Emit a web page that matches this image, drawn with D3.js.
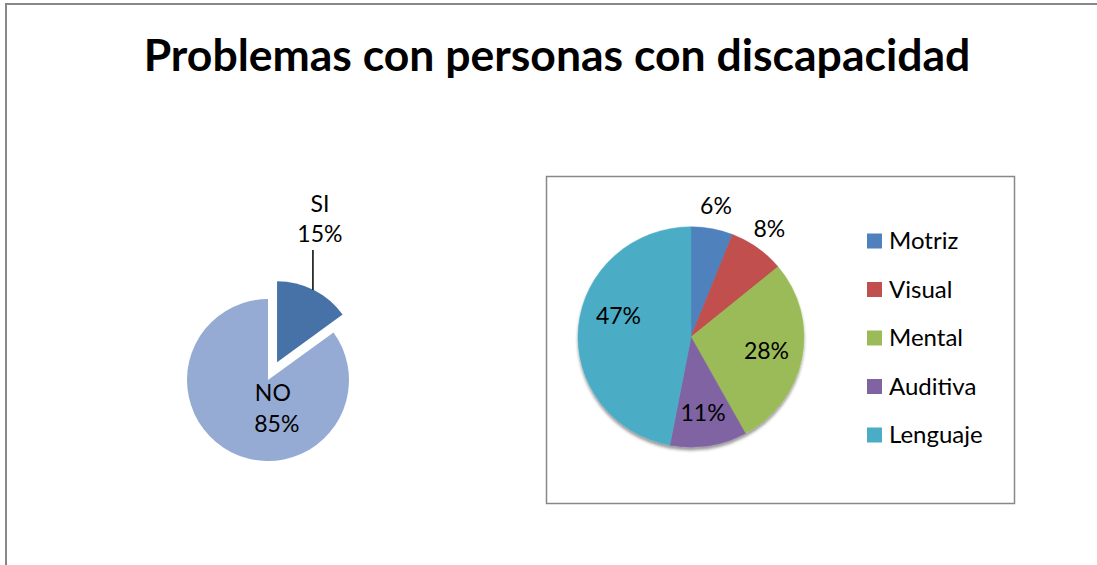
<!DOCTYPE html>
<html>
<head>
<meta charset="utf-8">
<script src="https://cdn.jsdelivr.net/npm/d3@7"></script>
<style>
  body { margin: 0; background: #fff; }
  text { font-family: Lato, "Liberation Sans", sans-serif; fill: #000; }
</style>
</head>
<body>
<div id="chart"></div>
<script>
// ---- data ----
var titleText = "Problemas con personas con discapacidad";

var answerLabels = ["SI", "NO"];
var answerValues = [15, 85];
var answerColors = ["#4672A8", "#95ABD4"];

var typeLabels = ["Motriz", "Visual", "Mental", "Auditiva", "Lenguaje"];
var typeValues = [6, 8, 28, 11, 47];
var typeColors = ["#4F81BD", "#C0504D", "#9BBB59", "#8064A2", "#4BACC6"];

var svgWidth = 1097;
var svgHeight = 565;
var labelSize = "23px";

var svg = d3.select("#chart")
  .append("svg")
  .attr("width", svgWidth)
  .attr("height", svgHeight);

// outer frame (only top and left edges are visible in the crop)
svg.append("path")
  .attr("d", "M6,565 L6,4 L1097,4")
  .attr("fill", "none")
  .attr("stroke", "#888")
  .attr("stroke-width", 2);

// title
svg.append("text")
  .attr("x", 557)
  .attr("y", 71)
  .attr("text-anchor", "middle")
  .style("font-weight", "bold")
  .style("font-size", "44.5px")
  .text(titleText);

// ---- left pie (SI / NO, SI exploded) ----
var leftR = 81;
var explode = 20;
var leftG = svg.append("g").attr("transform", "translate(268,380)");

var leftPie = d3.pie().sort(null).value(d => d)(answerValues);
var leftArc = d3.arc().innerRadius(0).outerRadius(leftR);

leftG.selectAll("path")
  .data(leftPie)
  .enter()
  .append("path")
  .attr("d", leftArc)
  .attr("fill", (d, i) => answerColors[i])
  .attr("transform", function(d, i) {
    if (i != 0) return null;
    var mid = (d.startAngle + d.endAngle) / 2;
    return `translate(${explode * Math.sin(mid)}, ${-explode * Math.cos(mid)})`;
  });

// SI label with leader line
var siMid = (leftPie[0].startAngle + leftPie[0].endAngle) / 2;
var siX = (explode + leftR * 0.975) * Math.sin(siMid);
leftG.append("line")
  .attr("x1", siX).attr("x2", siX)
  .attr("y1", -90).attr("y2", -130)
  .attr("stroke", "#000")
  .attr("stroke-width", 1.5);
leftG.append("text")
  .attr("x", siX + 7).attr("y", -168)
  .attr("text-anchor", "middle")
  .style("font-size", labelSize)
  .text(answerLabels[0]);
leftG.append("text")
  .attr("x", siX + 7).attr("y", -138)
  .attr("text-anchor", "middle")
  .style("font-size", labelSize)
  .text(answerValues[0] + "%");

// NO label inside
var noC = d3.arc().innerRadius(0).outerRadius(leftR * 0.5).centroid(leftPie[1]);
leftG.append("text")
  .attr("x", noC[0] + 14).attr("y", noC[1] + 3)
  .attr("text-anchor", "middle")
  .style("font-size", labelSize)
  .text(answerLabels[1]);
leftG.append("text")
  .attr("x", noC[0] + 18).attr("y", noC[1] + 34)
  .attr("text-anchor", "middle")
  .style("font-size", labelSize)
  .text(answerValues[1] + "%");

// ---- right chart box ----
svg.append("rect")
  .attr("x", 546.5).attr("y", 176.5)
  .attr("width", 468).attr("height", 327)
  .attr("fill", "#fff")
  .attr("stroke", "#888")
  .attr("stroke-width", 1.5);

var defs = svg.append("defs");
var shadow = defs.append("filter").attr("id", "pieShadow")
  .attr("x", "-20%").attr("y", "-20%").attr("width", "140%").attr("height", "140%");
shadow.append("feDropShadow")
  .attr("dx", 0).attr("dy", 3)
  .attr("stdDeviation", 1.5)
  .attr("flood-color", "#000")
  .attr("flood-opacity", 0.4);

var rightR = 113;
var rightG = svg.append("g").attr("transform", "translate(691,337) scale(1,0.975)");

var rightPie = d3.pie().sort(null).value(d => d)(typeValues);
var rightArc = d3.arc().innerRadius(0).outerRadius(rightR);

rightG.append("g")
  .attr("filter", "url(#pieShadow)")
  .selectAll("path")
  .data(rightPie)
  .enter()
  .append("path")
  .attr("d", rightArc)
  .attr("fill", (d, i) => typeColors[i])
  .attr("stroke", (d, i) => typeColors[i])
  .attr("stroke-width", 0.5);

// data labels: small slices outside, others inside
var inArc = d3.arc().innerRadius(rightR * 0.68).outerRadius(rightR * 0.68);
var outArc = d3.arc().innerRadius(rightR * 1.18).outerRadius(rightR * 1.18);
var labelG = svg.append("g").attr("transform", "translate(691,337)");
labelG.selectAll("text")
  .data(rightPie)
  .enter()
  .append("text")
  .attr("transform", function(d) {
    var c = d.data < 10 ? outArc.centroid(d) : inArc.centroid(d);
    if (d.index == 4) c = [c[0] + 4, c[1] - 14];
    return `translate(${c[0]}, ${c[1]})`;
  })
  .attr("text-anchor", "middle")
  .attr("dy", "0.35em")
  .style("font-size", labelSize)
  .text(d => d.data + "%");

// legend
var legend = svg.append("g").attr("transform", "translate(867,241)");
var rows = legend.selectAll("g")
  .data(typeLabels)
  .enter()
  .append("g")
  .attr("transform", (d, i) => `translate(0, ${i * 48.5})`);
rows.append("rect")
  .attr("x", 0).attr("y", -7.5)
  .attr("width", 15).attr("height", 15)
  .attr("fill", (d, i) => typeColors[i]);
rows.append("text")
  .attr("x", 22).attr("y", 0)
  .attr("dy", "0.35em")
  .style("font-size", "24px")
  .text(d => d);
</script>
</body>
</html>
